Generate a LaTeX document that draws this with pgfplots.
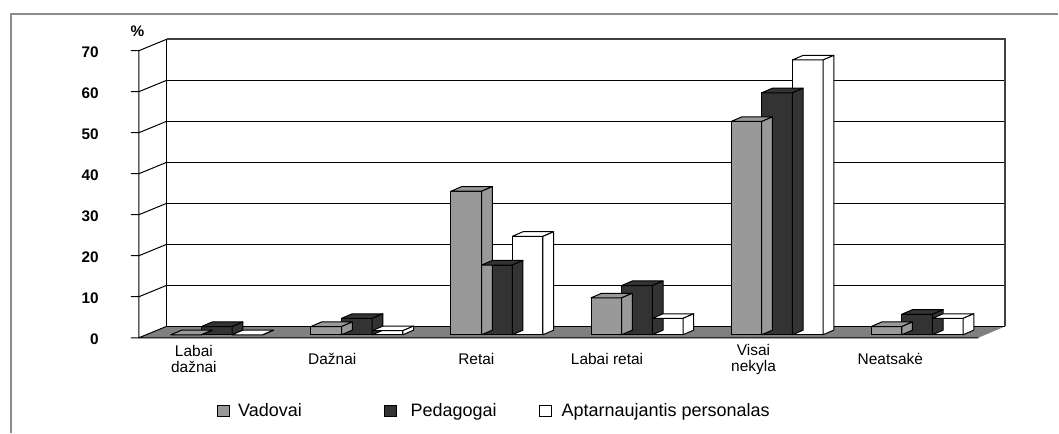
\documentclass[border=0pt]{standalone}
\usepackage{fontspec}
\setmainfont{Liberation Sans}
\usepackage{pgfplots}
\usepackage{pgfplotstable}
\pgfplotsset{compat=1.18}
\definecolor{barGrey}{HTML}{999999}
\definecolor{barBlack}{HTML}{333333}
\definecolor{floorGrey}{HTML}{808080}
\definecolor{frameGrey}{HTML}{8C8C8C}
\definecolor{edgeGrey}{HTML}{404040}
\pgfdeclareplotmark{nothing}{}
\pgfplotstableread{
x g b w
0 0 2 0
1 2 4 1
2 35 17 24
3 9 12 4
4 52 59 67
5 2 5 4
}\datatable
\pgfplotsset{
 prismfaces/.style={forget plot, only marks, mark=nothing, scatter, point meta=y,
   visualization depends on={rawy \as \barval},
   scatter/@pre marker code/.code={%
     \pgfscope
     \filldraw[fill=#1, draw=black, line width=0.75pt, line join=round]
       (-11.51pt,0pt) -- (11.51pt,0pt) -- (19.54pt,3.45pt) -- (-3.48pt,3.45pt) -- cycle;
     \filldraw[fill=#1, draw=black, line width=0.75pt, line join=round]
       (11.51pt,0pt) -- (19.54pt,3.45pt) -- (19.54pt,{3.45pt-\barval*3.078pt}) -- (11.51pt,{-\barval*3.078pt}) -- cycle;
   },
   scatter/@post marker code/.code={\endpgfscope}},
 frontbar/.style 2 args={ybar, bar width=0.219, bar shift=#2, fill=#1, draw=black, line width=0.75pt},
}
\begin{document}
\begin{tikzpicture}
\begin{axis}[
 scale only axis, width=794.25pt, height=324.75pt,
 xmin=-1.5483, xmax=6.0078, ymin=-23.879, ymax=81.627,
 clip=false, axis line style={draw=none}, major tick length=0pt, tick style={draw=none},
 ytick={0,10,...,70},
 /pgf/number format/assume math mode=true,
 yticklabel style={font=\bfseries\fontsize{11.5}{13}\selectfont, anchor=east, inner sep=0pt, xshift=74.25pt, yshift=-3.4pt},
 xtick={-0.164,0.824,1.853,2.786,3.832,4.809},
 xticklabels={{Labai\\dažnai},Dažnai,Retai,{Labai retai},{Visai\\nekyla},Neatsakė},
 xticklabel style={font=\fontsize{11.6}{12.2}\selectfont, align=center, anchor=center, inner sep=0pt, yshift=55.1pt},
 ylabel={\%},
 every axis y label/.style={at={(axis cs:-0.5673,73.95)}, anchor=center, font=\bfseries\fontsize{11.5}{13}\selectfont},
 unbounded coords=jump,
 legend columns=3,
 legend style={at={(axis cs:0,-18.64)}, anchor=west, draw=none, fill=none, inner sep=0pt,
   font=\fontsize{13.5}{16}\selectfont, nodes={inner sep=0pt},
   /tikz/every even column/.style={column sep=0pt}, /tikz/every odd column/.style={column sep=0pt}},
 legend image code/.code={\draw[#1, line width=0.75pt] (0pt,-4.125pt) rectangle (9pt,4.125pt);},
]
% outer frame
\addplot[forget plot, frameGrey, line width=1.1pt] coordinates {(-1.4699,-23.879) (-1.4699,78.216) (6.0078,78.216)};
% floor
\addplot[forget plot, fill=floorGrey, draw=none] coordinates {(-0.5565,-0.731) (5.437,-0.731) (5.630,2.071) (-0.3568,2.071)} -- cycle;
% back wall grid
\addplot[forget plot, black, line width=0.75pt] coordinates {
 (-0.3568,2.071) (5.630,2.071) (0,nan)
 (-0.3568,12.071) (5.630,12.071) (0,nan)
 (-0.3568,22.071) (5.630,22.071) (0,nan)
 (-0.3568,32.071) (5.630,32.071) (0,nan)
 (-0.3568,42.071) (5.630,42.071) (0,nan)
 (-0.3568,52.071) (5.630,52.071) (0,nan)
 (-0.3568,62.071) (5.630,62.071) (0,nan)
 (-0.3568,2.071) (-0.3568,72.071)};
\addplot[forget plot, edgeGrey, line width=1.3pt] coordinates {(-0.3568,72.071) (5.630,72.071) (5.630,2.071)};
% left side wall: ticks and diagonals
\addplot[forget plot, black, line width=0.75pt] coordinates {
 (-0.6136,-0.731) (-0.5565,-0.731) (-0.3568,2.071) (0,nan)
 (-0.6136,9.269) (-0.5565,9.269) (-0.3568,12.071) (0,nan)
 (-0.6136,19.269) (-0.5565,19.269) (-0.3568,22.071) (0,nan)
 (-0.6136,29.269) (-0.5565,29.269) (-0.3568,32.071) (0,nan)
 (-0.6136,39.269) (-0.5565,39.269) (-0.3568,42.071) (0,nan)
 (-0.6136,49.269) (-0.5565,49.269) (-0.3568,52.071) (0,nan)
 (-0.6136,59.269) (-0.5565,59.269) (-0.3568,62.071) (0,nan)
 (-0.6136,69.269) (-0.5565,69.269) (-0.3568,72.071) (0,nan)
 (-0.5565,-0.731) (-0.5565,69.269) (0,nan)
 (-0.5565,-0.731) (5.437,-0.731)};
% bars
\addplot[frontbar={barGrey}{-0.219}] table[x=x,y=g] {\datatable};
\addlegendentry{\hspace*{6pt}Vadovai\hspace*{61.5pt}}
\addplot[prismfaces=barGrey] table[x expr=\thisrow{x}-0.219, y=g] {\datatable};
\addplot[frontbar={barBlack}{0}] table[x=x,y=b] {\datatable};
\addlegendentry{\hspace*{10.5pt}Pedagogai\hspace*{31.5pt}}
\addplot[prismfaces=barBlack] table[x=x, y=b] {\datatable};
\addplot[frontbar={white}{0.219}] table[x=x,y=w] {\datatable};
\addlegendentry{\hspace*{7.5pt}Aptarnaujantis personalas}
\addplot[prismfaces=white] table[x expr=\thisrow{x}+0.219, y=w] {\datatable};
\end{axis}
\end{tikzpicture}
\end{document}
